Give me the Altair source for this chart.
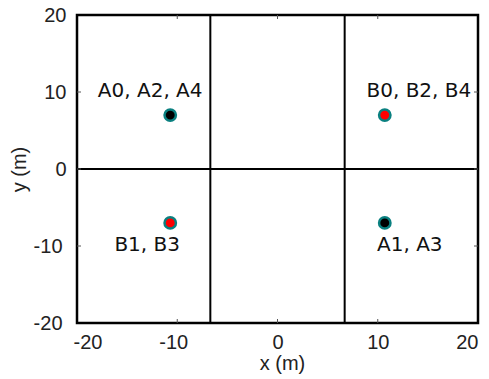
import altair as alt
import pandas as pd

tick_values = [-20, -10, 0, 10, 20]
inner_ticks = [-10, 0, 10]
divider_x = [-6.7, 6.7]
divider_y = [0]
point_x = [-10.7, 10.7, -10.7, 10.7]
point_y = [7, 7, -7, -7]
point_group = ["A", "B", "B", "A"]
label_text = ["A0, A2, A4", "B0, B2, B4", "B1, B3", "A1, A3"]
label_x = [-12.7, 14.1, -13.0, 13.2]
label_y = [9.3, 9.3, -10.7, -10.7]

W, H = 401, 308

points = pd.DataFrame({"x": point_x, "y": point_y, "g": point_group})
labels = pd.DataFrame({"x": label_x, "y": label_y, "t": label_text})
vlines = pd.DataFrame({"x": divider_x})
hlines = pd.DataFrame({"y": divider_y})
ticks = pd.DataFrame({"v": inner_ticks})

xs = alt.Scale(domain=[-20, 20], nice=False, zero=False)
ys = alt.Scale(domain=[-20, 20], nice=False, zero=False)

common = dict(values=tick_values, ticks=False, domain=False, grid=False,
              labelFontSize=20, labelFont="Liberation Sans", labelColor="#222",
              labelExpr="'' + datum.value",
              titleFontSize=20, titleFont="Liberation Sans",
              titleFontWeight="normal", titleColor="#222")
xaxis = alt.Axis(title="x (m)", labelPadding=9, titlePadding=1, titleX=205,
                 labelOffset={"condition": {"test": "datum.value < 0", "value": -4}, "value": 0},
                 **common)
yaxis = alt.Axis(title="y (m)", titlePadding=4,
                 labelPadding={"condition": {"test": "datum.value < 0", "value": 15}, "value": 11},
                 **common)

pts = alt.Chart(points).mark_circle(size=130, opacity=1, stroke="#0a8080",
                                    strokeWidth=2.5).encode(
    x=alt.X("x:Q", scale=xs, axis=xaxis),
    y=alt.Y("y:Q", scale=ys, axis=yaxis),
    fill=alt.Fill("g:N", scale=alt.Scale(domain=["A", "B"], range=["#000000", "#ff0000"]),
                  legend=None),
)

vl = alt.Chart(vlines).mark_rule(color="black", strokeWidth=2).encode(
    x=alt.X("x:Q", scale=xs), y=alt.value(0), y2=alt.value(H))
hl = alt.Chart(hlines).mark_rule(color="black", strokeWidth=2).encode(
    y=alt.Y("y:Q", scale=ys), x=alt.value(0), x2=alt.value(W))

tb = alt.Chart(ticks).mark_rule(color="#555", strokeWidth=1).encode(
    x=alt.X("v:Q", scale=xs), y=alt.value(H), y2=alt.value(H - 4))
tt = alt.Chart(ticks).mark_rule(color="#555", strokeWidth=1).encode(
    x=alt.X("v:Q", scale=xs), y=alt.value(0), y2=alt.value(4))
tl = alt.Chart(ticks).mark_rule(color="#555", strokeWidth=1).encode(
    y=alt.Y("v:Q", scale=ys), x=alt.value(0), x2=alt.value(4))
tr = alt.Chart(ticks).mark_rule(color="#555", strokeWidth=1).encode(
    y=alt.Y("v:Q", scale=ys), x=alt.value(W), x2=alt.value(W - 4))

txt = alt.Chart(labels).mark_text(font="DejaVu Sans", fontSize=20, color="#111",
                                  align="center", baseline="alphabetic").encode(
    x=alt.X("x:Q", scale=xs), y=alt.Y("y:Q", scale=ys), text="t:N")

chart = alt.layer(vl, hl, tb, tt, tl, tr, pts, txt).properties(
    width=W, height=H,
    autosize=alt.AutoSizeParams(type="none"),
    padding={"left": 69, "top": 7, "right": 3, "bottom": 56},
).configure_view(stroke="black", strokeWidth=2.5)

chart.save("out.html", embed_options={"renderer": "svg", "actions": False})
